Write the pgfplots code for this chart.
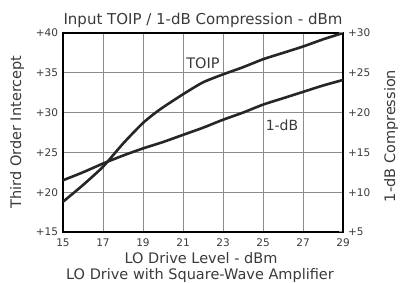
\documentclass[border=0pt]{standalone}
\usepackage{fontspec}
\setmainfont{DejaVu Sans}
\usepackage{pgfplots}
\pgfplotsset{compat=1.18}
\pgfkeys{/pgf/number format/assume math mode=true}
\definecolor{txt}{HTML}{3A3A3A}
\definecolor{crv}{HTML}{262626}
\definecolor{grd}{HTML}{8C8C8C}
\begin{document}
\begin{tikzpicture}
\useasboundingbox (0pt,0pt) rectangle (401pt,283pt);
\begin{axis}[
  at={(63pt,51pt)}, anchor=south west,
  scale only axis, width=280pt, height=199pt,
  xmin=15, xmax=29, ymin=15, ymax=40,
  xtick={15,17,19,21,23,25,27,29}, ytick={15,20,25,30,35,40},
  grid=major,
  grid style={color=grd, line width=1pt},
  tick style={color=grd, line width=1pt},
  axis line style={line width=1.6pt},
  ticklabel style={font=\fontsize{10.5}{12}\selectfont, text=txt},
  yticklabel={+\pgfmathprintnumber{\tick}},
  yticklabel style={xshift=-1.5pt},
  xticklabel style={yshift=-3pt},
]
\addplot[crv, line width=2.6pt, smooth, tension=0.4] coordinates {
(15,18.8) (16,20.9) (17,23.2) (18,26.1) (19,28.7) (19.85,30.4) (21,32.3) (22,33.8) (23,34.8) (24,35.7) (25,36.7) (26,37.5) (27,38.3) (28,39.2) (29,40.0)};
\node[font=\fontsize{14.5}{16}\selectfont, text=txt] at (axis cs:22,36.2) {TOIP};
\node[font=\fontsize{14}{16}\selectfont, text=txt] at (axis cs:25.95,28.4) {1-dB};
\end{axis}
\begin{axis}[
  at={(63pt,51pt)}, anchor=south west,
  scale only axis, width=280pt, height=199pt,
  xmin=15, xmax=29, ymin=5, ymax=30,
  axis x line=none, axis y line*=right,
  ytick={5,10,15,20,25,30},
  tick style={color=grd, line width=1pt},
  axis line style={line width=1.6pt},
  ticklabel style={font=\fontsize{10.5}{12}\selectfont, text=txt},
  yticklabel={+\pgfmathprintnumber{\tick}},
  yticklabel style={xshift=1.5pt},
]
\addplot[crv, line width=2.6pt, smooth, tension=0.4] coordinates {
(15,11.5) (16,12.5) (17,13.6) (18,14.6) (19,15.5) (20,16.3) (21,17.2) (22,18.1) (23,19.1) (24,20.0) (25,21.0) (26,21.8) (27,22.6) (28,23.4) (29,24.1)};
\end{axis}
\node[font=\fontsize{15}{17}\selectfont, text=txt] at (203pt,263pt) {Input TOIP / 1-dB Compression - dBm};
\node[font=\fontsize{14.5}{16}\selectfont, text=txt, rotate=90] at (17pt,151pt) {Third Order Intercept};
\node[font=\fontsize{14.5}{16}\selectfont, text=txt, rotate=90] at (391pt,147pt) {1-dB Compression};
\node[font=\fontsize{14.5}{16}\selectfont, text=txt] at (201pt,25pt) {LO Drive Level - dBm};
\node[font=\fontsize{14.5}{16}\selectfont, text=txt] at (200pt,7pt) {LO Drive with Square-Wave Amplifier};
\end{tikzpicture}
\end{document}
